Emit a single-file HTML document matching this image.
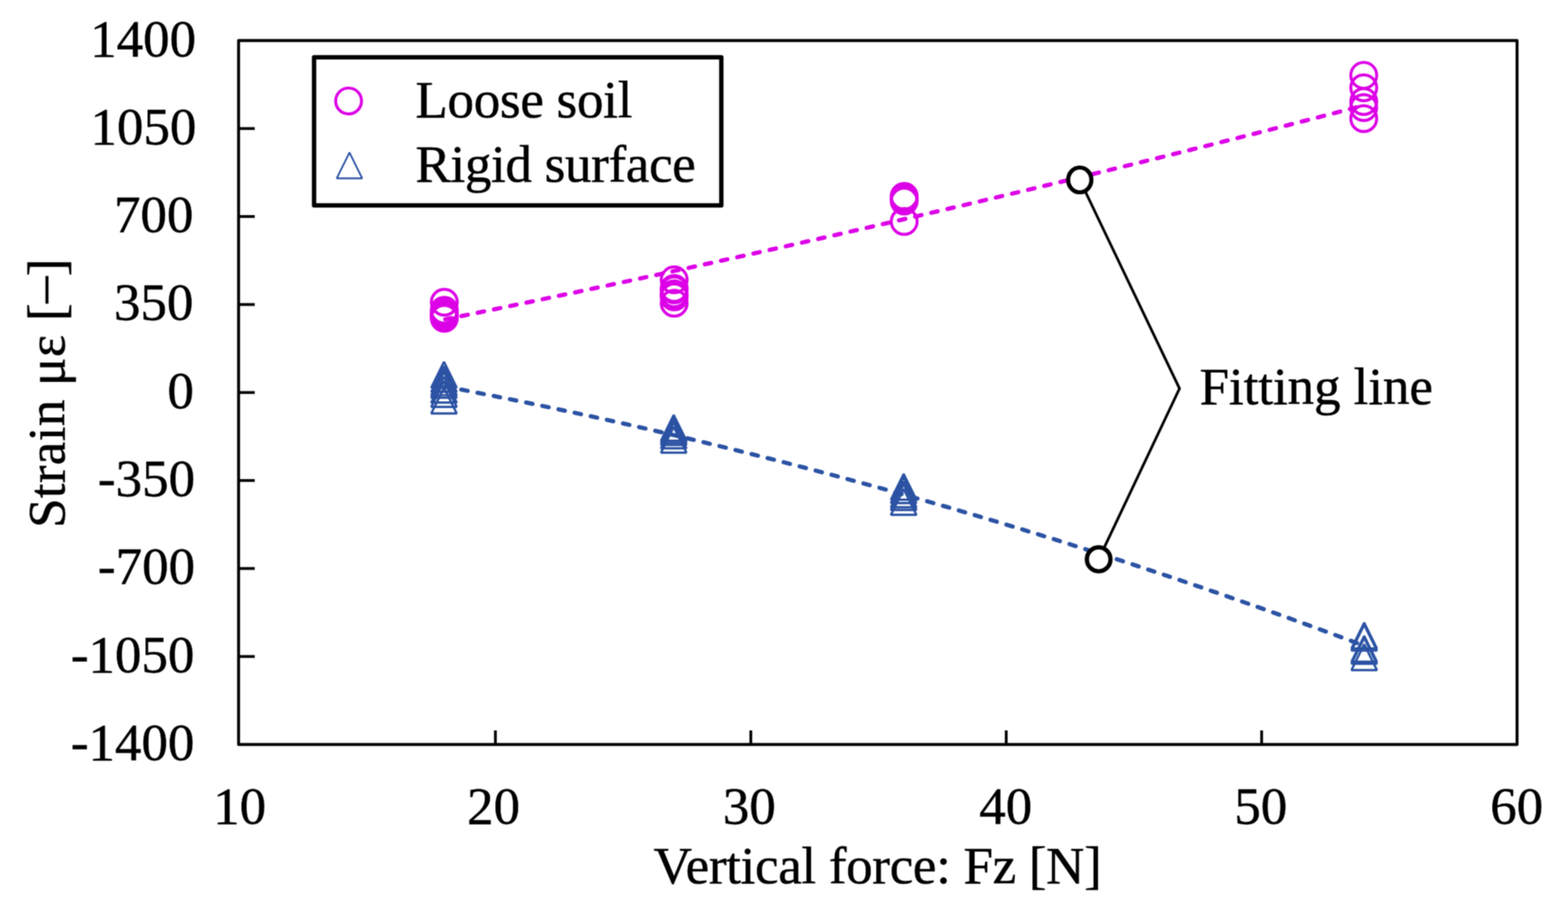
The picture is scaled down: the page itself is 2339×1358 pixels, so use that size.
<!DOCTYPE html>
<html><head><meta charset="utf-8"><title>Strain vs Vertical force</title>
<style>html,body{margin:0;padding:0;background:#fff;}svg{display:block;}text{font-family:"Liberation Serif","Times New Roman",serif;fill:#000;stroke:#000;stroke-width:0.7px;}</style></head><body>
<svg width="2339" height="1358" viewBox="0 0 2339 1358">
<defs><filter id="soft" x="0" y="0" width="1" height="1" color-interpolation-filters="sRGB"><feConvolveMatrix order="3" kernelMatrix="1 2 1 2 4 2 1 2 1" divisor="16" edgeMode="duplicate"/></filter></defs>
<g filter="url(#soft)">
<rect x="0" y="0" width="2339" height="1358" fill="#fff"/>
<path d="M663.00,476.88 Q1348.50,337.00 2034.00,157.44" fill="none" stroke="#DC00E6" stroke-width="6.3" stroke-dasharray="9.7 15.045" stroke-dashoffset="23.555" stroke-linecap="round"/>
<path d="M663.00,576.63 Q1348.50,706.49 2034.00,963.31" fill="none" stroke="#2B52A3" stroke-width="6.3" stroke-dasharray="9.7 14.95" stroke-dashoffset="23.68" stroke-linecap="round"/>
<circle cx="662.8" cy="451" r="19.3" fill="none" stroke="#DC00E6" stroke-width="4.4"/>
<circle cx="662.8" cy="463" r="19.3" fill="none" stroke="#DC00E6" stroke-width="4.4"/>
<circle cx="662.8" cy="466" r="19.3" fill="none" stroke="#DC00E6" stroke-width="4.4"/>
<circle cx="662.8" cy="469" r="19.3" fill="none" stroke="#DC00E6" stroke-width="4.4"/>
<circle cx="662.8" cy="471" r="19.3" fill="none" stroke="#DC00E6" stroke-width="4.4"/>
<circle cx="662.8" cy="473" r="19.3" fill="none" stroke="#DC00E6" stroke-width="4.4"/>
<circle cx="662.8" cy="475" r="19.3" fill="none" stroke="#DC00E6" stroke-width="4.4"/>
<circle cx="1005.7" cy="417.6" r="19.3" fill="none" stroke="#DC00E6" stroke-width="4.4"/>
<circle cx="1005.7" cy="430.5" r="19.3" fill="none" stroke="#DC00E6" stroke-width="4.4"/>
<circle cx="1005.7" cy="432.5" r="19.3" fill="none" stroke="#DC00E6" stroke-width="4.4"/>
<circle cx="1005.7" cy="438.5" r="19.3" fill="none" stroke="#DC00E6" stroke-width="4.4"/>
<circle cx="1005.7" cy="440.5" r="19.3" fill="none" stroke="#DC00E6" stroke-width="4.4"/>
<circle cx="1005.7" cy="443" r="19.3" fill="none" stroke="#DC00E6" stroke-width="4.4"/>
<circle cx="1005.7" cy="452.5" r="19.3" fill="none" stroke="#DC00E6" stroke-width="4.4"/>
<circle cx="1348.8" cy="293" r="19.3" fill="none" stroke="#DC00E6" stroke-width="4.4"/>
<circle cx="1348.8" cy="296.5" r="19.3" fill="none" stroke="#DC00E6" stroke-width="4.4"/>
<circle cx="1348.8" cy="300" r="19.3" fill="none" stroke="#DC00E6" stroke-width="4.4"/>
<circle cx="1348.8" cy="330.5" r="19.3" fill="none" stroke="#DC00E6" stroke-width="4.4"/>
<circle cx="2034.3" cy="112.4" r="19.3" fill="none" stroke="#DC00E6" stroke-width="4.4"/>
<circle cx="2034.3" cy="131" r="19.3" fill="none" stroke="#DC00E6" stroke-width="4.4"/>
<circle cx="2034.3" cy="151.5" r="19.3" fill="none" stroke="#DC00E6" stroke-width="4.4"/>
<circle cx="2034.3" cy="160.5" r="19.3" fill="none" stroke="#DC00E6" stroke-width="4.4"/>
<circle cx="2034.3" cy="177" r="19.3" fill="none" stroke="#DC00E6" stroke-width="4.4"/>
<path d="M662.30,539.90 L681.30,578.40 L643.30,578.40 Z" fill="none" stroke="#2B52A3" stroke-width="3.4" stroke-linejoin="bevel"/>
<path d="M662.30,546.40 L681.30,584.90 L643.30,584.90 Z" fill="none" stroke="#2B52A3" stroke-width="3.4" stroke-linejoin="bevel"/>
<path d="M662.30,551.40 L681.30,589.90 L643.30,589.90 Z" fill="none" stroke="#2B52A3" stroke-width="3.4" stroke-linejoin="bevel"/>
<path d="M662.30,555.10 L681.30,593.60 L643.30,593.60 Z" fill="none" stroke="#2B52A3" stroke-width="3.4" stroke-linejoin="bevel"/>
<path d="M662.30,562.30 L681.30,600.80 L643.30,600.80 Z" fill="none" stroke="#2B52A3" stroke-width="3.4" stroke-linejoin="bevel"/>
<path d="M662.30,568.70 L681.30,607.20 L643.30,607.20 Z" fill="none" stroke="#2B52A3" stroke-width="3.4" stroke-linejoin="bevel"/>
<path d="M662.30,578.50 L681.30,617.00 L643.30,617.00 Z" fill="none" stroke="#2B52A3" stroke-width="3.4" stroke-linejoin="bevel"/>
<path d="M1005.00,619.20 L1024.00,657.70 L986.00,657.70 Z" fill="none" stroke="#2B52A3" stroke-width="3.4" stroke-linejoin="bevel"/>
<path d="M1005.00,622.40 L1024.00,660.90 L986.00,660.90 Z" fill="none" stroke="#2B52A3" stroke-width="3.4" stroke-linejoin="bevel"/>
<path d="M1005.00,625.50 L1024.00,664.00 L986.00,664.00 Z" fill="none" stroke="#2B52A3" stroke-width="3.4" stroke-linejoin="bevel"/>
<path d="M1005.00,630.50 L1024.00,669.00 L986.00,669.00 Z" fill="none" stroke="#2B52A3" stroke-width="3.4" stroke-linejoin="bevel"/>
<path d="M1005.00,637.00 L1024.00,675.50 L986.00,675.50 Z" fill="none" stroke="#2B52A3" stroke-width="3.4" stroke-linejoin="bevel"/>
<path d="M1348.00,707.30 L1367.00,745.80 L1329.00,745.80 Z" fill="none" stroke="#2B52A3" stroke-width="3.4" stroke-linejoin="bevel"/>
<path d="M1348.00,712.30 L1367.00,750.80 L1329.00,750.80 Z" fill="none" stroke="#2B52A3" stroke-width="3.4" stroke-linejoin="bevel"/>
<path d="M1348.00,718.50 L1367.00,757.00 L1329.00,757.00 Z" fill="none" stroke="#2B52A3" stroke-width="3.4" stroke-linejoin="bevel"/>
<path d="M1348.00,722.50 L1367.00,761.00 L1329.00,761.00 Z" fill="none" stroke="#2B52A3" stroke-width="3.4" stroke-linejoin="bevel"/>
<path d="M1348.00,729.80 L1367.00,768.30 L1329.00,768.30 Z" fill="none" stroke="#2B52A3" stroke-width="3.4" stroke-linejoin="bevel"/>
<path d="M2035.00,929.30 L2054.00,967.80 L2016.00,967.80 Z" fill="none" stroke="#2B52A3" stroke-width="3.4" stroke-linejoin="bevel"/>
<path d="M2035.00,932.40 L2054.00,970.90 L2016.00,970.90 Z" fill="none" stroke="#2B52A3" stroke-width="3.4" stroke-linejoin="bevel"/>
<path d="M2035.00,949.00 L2054.00,987.50 L2016.00,987.50 Z" fill="none" stroke="#2B52A3" stroke-width="3.4" stroke-linejoin="bevel"/>
<path d="M2035.00,952.00 L2054.00,990.50 L2016.00,990.50 Z" fill="none" stroke="#2B52A3" stroke-width="3.4" stroke-linejoin="bevel"/>
<path d="M2035.00,961.50 L2054.00,1000.00 L2016.00,1000.00 Z" fill="none" stroke="#2B52A3" stroke-width="3.4" stroke-linejoin="bevel"/>
<polyline points="1610.7,268.5 1759.5,579.8 1638.9,834.7" fill="none" stroke="#000" stroke-width="4.0" stroke-linejoin="miter"/>
<ellipse cx="1610.7" cy="268.5" rx="17.3" ry="18.5" fill="#fff" stroke="#000" stroke-width="6.2"/>
<ellipse cx="1638.9" cy="834.7" rx="17.6" ry="17.9" fill="#fff" stroke="#000" stroke-width="6.4"/>
<text x="1789.5" y="603.0" font-size="79" textLength="348.0" lengthAdjust="spacing">Fitting line</text>
<rect x="355.9" y="60.5" width="1907.1" height="1050.5" fill="none" stroke="#000" stroke-width="4.4" stroke-linejoin="round"/>
<line x1="355.9" y1="191.81" x2="380" y2="191.81" stroke="#000" stroke-width="4.2"/>
<line x1="355.9" y1="323.12" x2="380" y2="323.12" stroke="#000" stroke-width="4.2"/>
<line x1="355.9" y1="454.44" x2="380" y2="454.44" stroke="#000" stroke-width="4.2"/>
<line x1="355.9" y1="585.75" x2="380" y2="585.75" stroke="#000" stroke-width="4.2"/>
<line x1="355.9" y1="717.06" x2="380" y2="717.06" stroke="#000" stroke-width="4.2"/>
<line x1="355.9" y1="848.38" x2="380" y2="848.38" stroke="#000" stroke-width="4.2"/>
<line x1="355.9" y1="979.69" x2="380" y2="979.69" stroke="#000" stroke-width="4.2"/>
<line x1="739.0" y1="1111.0" x2="739.0" y2="1090" stroke="#000" stroke-width="4.2"/>
<line x1="1120.0" y1="1111.0" x2="1120.0" y2="1090" stroke="#000" stroke-width="4.2"/>
<line x1="1501.0" y1="1111.0" x2="1501.0" y2="1090" stroke="#000" stroke-width="4.2"/>
<line x1="1882.0" y1="1111.0" x2="1882.0" y2="1090" stroke="#000" stroke-width="4.2"/>
<text x="292.5" y="83.5" font-size="79" text-anchor="end">1400</text>
<text x="292.9" y="214.8" font-size="79" text-anchor="end">1050</text>
<text x="288.5" y="346.1" font-size="79" text-anchor="end">700</text>
<text x="288.4" y="477.4" font-size="79" text-anchor="end">350</text>
<text x="289.2" y="608.8" font-size="79" text-anchor="end">0</text>
<text x="290.9" y="740.1" font-size="79" text-anchor="end">-350</text>
<text x="290.9" y="871.4" font-size="79" text-anchor="end">-700</text>
<text x="290.1" y="1002.7" font-size="79" text-anchor="end">-1050</text>
<text x="290.1" y="1134.0" font-size="79" text-anchor="end">-1400</text>
<text x="357.5" y="1229.2" font-size="79" text-anchor="middle">10</text>
<text x="736.2" y="1229.2" font-size="79" text-anchor="middle">20</text>
<text x="1117.8" y="1229.2" font-size="79" text-anchor="middle">30</text>
<text x="1500.3" y="1229.2" font-size="79" text-anchor="middle">40</text>
<text x="1880.8" y="1229.2" font-size="79" text-anchor="middle">50</text>
<text x="2262.4" y="1229.2" font-size="79" text-anchor="middle">60</text>
<text x="975.0" y="1318.3" font-size="79" textLength="668.5" lengthAdjust="spacing">Vertical force: Fz [N]</text>
<text transform="translate(96,787.8) rotate(-90)" font-size="79" textLength="401.8" lengthAdjust="spacing">Strain με [<tspan dy="-7.6">–</tspan><tspan dy="7.6">]</tspan></text>
<rect x="468.5" y="85.5" width="607.5" height="221" fill="#fff" stroke="#000" stroke-width="6.5" stroke-linejoin="round"/>
<circle cx="520.0" cy="150.7" r="19.3" fill="none" stroke="#DC00E6" stroke-width="4.4"/>
<path d="M521.30,227.60 L540.30,266.10 L502.30,266.10 Z" fill="none" stroke="#2B52A3" stroke-width="2.6" stroke-linejoin="bevel"/>
<text x="619.7" y="174.5" font-size="79" textLength="323.7" lengthAdjust="spacing">Loose soil</text>
<text x="619.7" y="270.5" font-size="79" textLength="418.2" lengthAdjust="spacing">Rigid surface</text>
</g></svg></body></html>
